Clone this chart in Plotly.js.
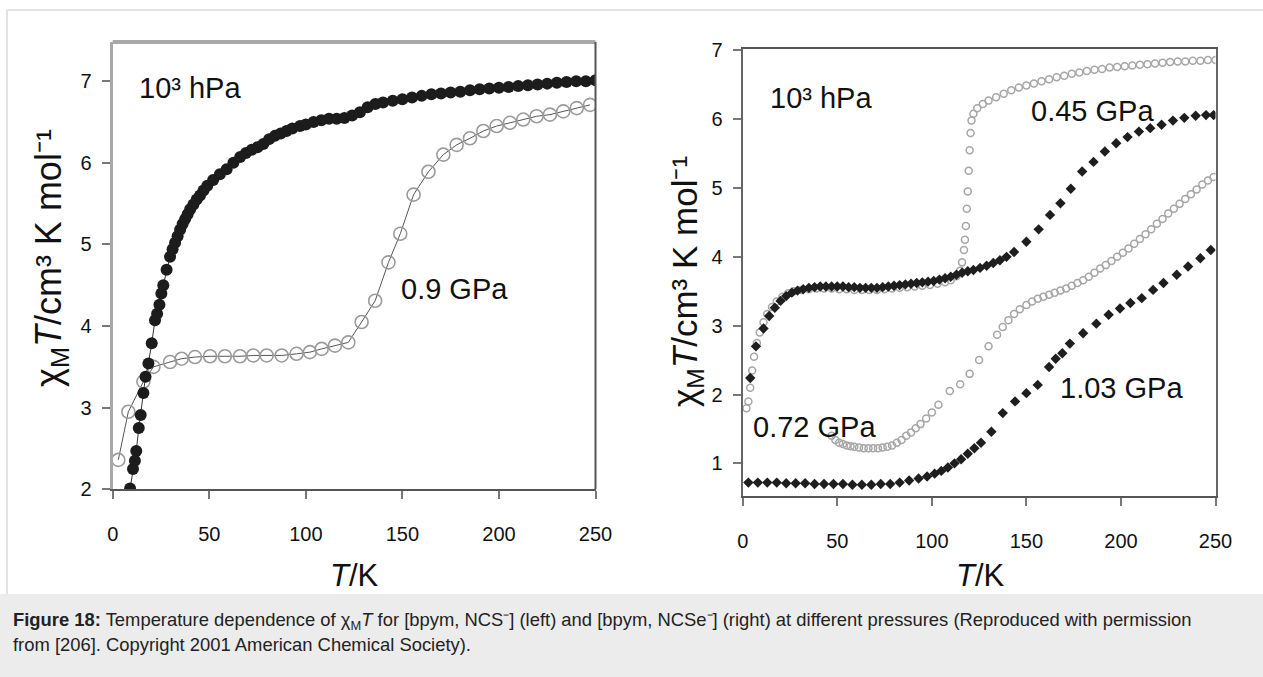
<!DOCTYPE html>
<html>
<head>
<meta charset="utf-8">
<script src="https://cdn.plot.ly/plotly-3.0.1.min.js"></script>
<style>
html,body{margin:0;padding:0;background:#fff;}
#chart{width:1263px;height:677px;}
</style>
</head>
<body>
<div id="chart"></div>
<script>
// ---------- Left panel: [bpym, NCS-] ----------
const leftAmbientT = [9,10.5,11.5,12.2,13.5,14.5,15.9,17,18.5,20.2,21.9,23,24.2,25.2,26.2,27.9,29.7,31,32.3,33.6,34.9,36.2,37.5,38.8,40.1,41.8,43.5,45.2,47,49,52,55.5,59,62.5,66,69,72,75,78,81,84,87,90,93,97,100,104,108,112,116,120,124,128,132,136,140,145,150,155,160,165,170,175,180,185,190,195,200,205,210,215,220,225,230,235,240,245,250];
const leftAmbientV = [2.01,2.25,2.35,2.47,2.75,2.91,3.18,3.38,3.54,3.79,4.07,4.15,4.26,4.40,4.50,4.69,4.85,4.94,5.02,5.10,5.18,5.25,5.31,5.37,5.43,5.49,5.55,5.60,5.66,5.72,5.79,5.86,5.92,6.00,6.07,6.12,6.16,6.19,6.23,6.29,6.33,6.36,6.39,6.42,6.45,6.47,6.50,6.52,6.54,6.54,6.55,6.58,6.62,6.68,6.72,6.74,6.76,6.78,6.80,6.82,6.84,6.85,6.86,6.87,6.89,6.90,6.91,6.92,6.93,6.94,6.95,6.96,6.97,6.98,6.99,7.00,7.00,7.01];

const left09T = [2.9,8.1,15.9,21.1,29.7,35.7,42.6,50.4,58.1,65.9,72.8,79.7,87.5,95.2,102.1,108.2,115.1,122,128.9,135.9,142.8,148.9,155.8,163.5,171.2,178.1,185,191.9,198.8,205.7,212.6,219.5,226.4,233.3,240.3,247.2];
const left09V = [2.36,2.95,3.32,3.50,3.56,3.60,3.62,3.63,3.63,3.63,3.64,3.64,3.64,3.66,3.68,3.72,3.76,3.80,4.05,4.31,4.78,5.13,5.61,5.89,6.10,6.22,6.30,6.39,6.45,6.49,6.53,6.57,6.59,6.63,6.67,6.71];

// ---------- Right panel: [bpym, NCSe-] ----------
const rightAmbientT = [2,3,4,5,6,7.5,9,11,13,15.5,18,21,24,27,31,35,39,43,47,51,55,59,63,67,71,75,79,83,87,91,95,99,103,107,110,113,115,116,117,117.5,118,118.5,119,119.5,120,120.5,121,122,124,127,130,134,138,142,146,150,154,158,162,166,170,174,178,182,186,190,194,198,202,206,210,214,218,222,226,230,234,238,242,246,250];
const rightAmbientV = [1.80,1.90,2.10,2.35,2.55,2.75,2.90,3.05,3.17,3.27,3.35,3.42,3.47,3.50,3.52,3.53,3.54,3.54,3.54,3.53,3.53,3.52,3.52,3.52,3.52,3.53,3.54,3.55,3.56,3.57,3.58,3.59,3.61,3.63,3.66,3.72,3.80,3.92,4.10,4.25,4.45,4.70,4.95,5.25,5.55,5.80,5.98,6.08,6.16,6.22,6.27,6.32,6.37,6.42,6.46,6.49,6.52,6.55,6.58,6.61,6.63,6.66,6.68,6.70,6.72,6.73,6.75,6.76,6.77,6.78,6.79,6.80,6.81,6.82,6.83,6.84,6.84,6.85,6.85,6.86,6.86];

const right045T = [4,7,11,14,17,20,23,26,29,32,35,38,41,44,47,50,53,56,59,62,65,68,71,74,77,80,83,86,89,92,95,98,101,104,107,110,113,116,119,122,125.5,129,132.5,136,139.5,143.5,150,156.5,162.5,168,173.5,179.5,185.5,191.5,197.5,203.5,209.5,215.5,221.5,227.5,233.5,239.5,245,249];
const right045V = [2.24,2.70,2.96,3.14,3.26,3.36,3.43,3.48,3.51,3.53,3.55,3.56,3.57,3.57,3.57,3.57,3.57,3.56,3.56,3.55,3.55,3.55,3.55,3.56,3.57,3.58,3.59,3.60,3.61,3.62,3.63,3.64,3.65,3.67,3.69,3.71,3.74,3.77,3.79,3.81,3.84,3.87,3.91,3.95,4.00,4.07,4.22,4.40,4.61,4.78,4.99,5.24,5.38,5.53,5.65,5.74,5.82,5.87,5.92,5.98,6.02,6.05,6.06,6.06];

const right072T = [47,49,51,53,55,57,59,61.5,64,66.5,69,71.5,74,76.5,79,81.5,84,86.5,89,91.5,94,97,100,103.5,109.5,115,120,125,130,134.5,137.5,140.5,143.5,146.5,150,153,156,159,162,165,168,171,174,177,180,183,186,189,192,195,198,201,204,207,210,213,216,219,222,225,228,231,234,237,240,243,246,249];
const right072V = [1.40,1.34,1.30,1.28,1.26,1.25,1.24,1.23,1.22,1.22,1.22,1.22,1.23,1.24,1.26,1.30,1.34,1.40,1.45,1.51,1.57,1.65,1.74,1.85,2.05,2.15,2.30,2.50,2.70,2.87,2.98,3.08,3.17,3.24,3.30,3.35,3.39,3.42,3.45,3.48,3.51,3.54,3.58,3.62,3.66,3.71,3.77,3.83,3.88,3.94,4.00,4.06,4.12,4.19,4.26,4.33,4.40,4.48,4.55,4.63,4.70,4.77,4.84,4.91,4.98,5.05,5.11,5.16];

const right103T = [3,8,13,18,23,28,33,38,43,48,53,58,63,68,73,78,83,88,93,97.5,101.5,105,108.5,112,115.5,119,122.5,126,131.5,137.5,144,150,156,162,165.5,169,173,180,187,193.5,199.5,205,211,217,222.5,229.5,235.5,242,247.5];
const right103V = [0.72,0.72,0.72,0.72,0.71,0.71,0.71,0.70,0.70,0.70,0.70,0.69,0.69,0.69,0.70,0.70,0.72,0.75,0.78,0.81,0.85,0.89,0.94,1.00,1.06,1.14,1.22,1.30,1.46,1.73,1.90,2.02,2.14,2.40,2.52,2.60,2.74,2.89,3.03,3.16,3.25,3.33,3.40,3.52,3.62,3.74,3.86,3.98,4.10];

const tickValsX = [0,50,100,150,200,250];
const tickValsYLeft = [2,3,4,5,6,7];
const tickValsYRight = [1,2,3,4,5,6,7];

const labels = {
  leftAmbient: '10³ hPa',
  left09: '0.9 GPa',
  rightAmbient: '10³ hPa',
  right045: '0.45 GPa',
  right072: '0.72 GPa',
  right103: '1.03 GPa',
  xTitle: '<i>T</i>/K',
  yTitle: 'χ<sub>M</sub><i>T</i>/cm³ K mol⁻¹',
  caption1: '<b>Figure 18:</b> Temperature dependence of χ<sub>M</sub><i>T</i> for [bpym, NCS⁻] (left) and [bpym, NCSe⁻] (right) at different pressures (Reproduced with permission',
  caption2: 'from [206]. Copyright 2001 American Chemical Society).'
};

const FONT = 'Liberation Sans, Arial, sans-serif';
const W = 1263, H = 677;
const px = v => v / W;
const py = v => (H - v) / H;

const traces = [
  {x: left09T, y: left09V, xaxis: 'x', yaxis: 'y', mode: 'lines+markers', name: '0.9 GPa',
   line: {color: '#555', width: 1},
   marker: {symbol: 'circle-open', size: 13, color: '#9a9a9a', line: {width: 1.6, color: '#9a9a9a'}}},
  {x: leftAmbientT, y: leftAmbientV, xaxis: 'x', yaxis: 'y', mode: 'lines+markers', name: '10^3 hPa',
   line: {color: '#333', width: 1},
   marker: {symbol: 'circle', size: 12, color: '#1c1c1c'}},
  {x: rightAmbientT, y: rightAmbientV, xaxis: 'x2', yaxis: 'y2', mode: 'markers', name: '10^3 hPa (Se)',
   marker: {symbol: 'circle-open', size: 7, color: '#a6a6a6', line: {width: 1.5, color: '#a6a6a6'}}},
  {x: right072T, y: right072V, xaxis: 'x2', yaxis: 'y2', mode: 'markers', name: '0.72 GPa',
   marker: {symbol: 'circle-open', size: 7, color: '#a6a6a6', line: {width: 1.5, color: '#a6a6a6'}}},
  {x: right045T, y: right045V, xaxis: 'x2', yaxis: 'y2', mode: 'markers', name: '0.45 GPa',
   marker: {symbol: 'diamond', size: 8, color: '#1e1e1e'}},
  {x: right103T, y: right103V, xaxis: 'x2', yaxis: 'y2', mode: 'markers', name: '1.03 GPa',
   marker: {symbol: 'diamond', size: 8, color: '#1e1e1e'}}
];

const axisCommon = {
  showgrid: false, zeroline: false, showline: true, ticks: 'outside',
  ticklen: 8, tickwidth: 2, tickcolor: '#777',
  tickfont: {family: FONT, size: 20, color: '#111'}
};

const layout = {
  width: W, height: H,
  margin: {l: 0, r: 0, t: 0, b: 0},
  paper_bgcolor: '#fff', plot_bgcolor: '#fff',
  showlegend: false,
  font: {family: FONT, color: '#111'},
  xaxis: Object.assign({}, axisCommon, {domain: [px(112.7), px(595.5)], range: [0, 250], tickvals: tickValsX,
    anchor: 'y', linecolor: '#555', linewidth: 2, ticklabelstandoff: 18}),
  yaxis: Object.assign({}, axisCommon, {domain: [py(489.3), py(42)], range: [2, 7.48], tickvals: tickValsYLeft,
    anchor: 'x', linecolor: '#a8a8a8', linewidth: 3, ticklabelstandoff: 6}),
  xaxis2: Object.assign({}, axisCommon, {domain: [px(742.7), px(1215.5)], range: [0, 250], tickvals: tickValsX,
    anchor: 'y2', linecolor: '#555', linewidth: 2, mirror: true, ticklabelstandoff: 18}),
  yaxis2: Object.assign({}, axisCommon, {domain: [py(495.7), py(49)], range: [0.53, 7.02], tickvals: tickValsYRight,
    anchor: 'x2', linecolor: '#666', linewidth: 2, mirror: true, ticklabelstandoff: 6}),
  shapes: [
    {type: 'rect', xref: 'paper', yref: 'paper', x0: 0, x1: 1, y0: 0, y1: py(594), fillcolor: '#ececec', line: {width: 0}, layer: 'below'},
    {type: 'line', xref: 'paper', yref: 'paper', x0: px(7), x1: 1, y0: py(10), y1: py(10), line: {color: '#e2e2e2', width: 2}},
    {type: 'line', xref: 'paper', yref: 'paper', x0: px(7), x1: px(7), y0: py(594), y1: py(10), line: {color: '#e2e2e2', width: 2}},
    {type: 'line', xref: 'x domain', yref: 'y domain', x0: 0, x1: 1, y0: 1, y1: 1, line: {color: '#a8a8a8', width: 4}},
    {type: 'line', xref: 'x domain', yref: 'y domain', x0: 1, x1: 1, y0: 0, y1: 1, line: {color: '#555', width: 2}}
  ],
  annotations: [
    {xref: 'x', yref: 'y', x: 12.6, y: 6.92, text: labels.leftAmbient, showarrow: false, xanchor: 'left', yanchor: 'middle', font: {family: FONT, size: 29, color: '#111'}},
    {xref: 'x', yref: 'y', x: 148.5, y: 4.46, text: labels.left09, showarrow: false, xanchor: 'left', yanchor: 'middle', font: {family: FONT, size: 29, color: '#111'}},
    {xref: 'x2', yref: 'y2', x: 13.4, y: 6.31, text: labels.rightAmbient, showarrow: false, xanchor: 'left', yanchor: 'middle', font: {family: FONT, size: 29, color: '#111'}},
    {xref: 'x2', yref: 'y2', x: 151.5, y: 6.12, text: labels.right045, showarrow: false, xanchor: 'left', yanchor: 'middle', font: {family: FONT, size: 29, color: '#111'}},
    {xref: 'x2', yref: 'y2', x: 4.5, y: 1.53, text: labels.right072, showarrow: false, xanchor: 'left', yanchor: 'middle', font: {family: FONT, size: 29, color: '#111'}},
    {xref: 'x2', yref: 'y2', x: 166.5, y: 2.10, text: labels.right103, showarrow: false, xanchor: 'left', yanchor: 'middle', font: {family: FONT, size: 29, color: '#111'}},
    {xref: 'paper', yref: 'paper', x: px(355), y: py(575), text: labels.xTitle, showarrow: false, xanchor: 'center', yanchor: 'middle', font: {family: FONT, size: 31, color: '#111'}},
    {xref: 'paper', yref: 'paper', x: px(980), y: py(575), text: labels.xTitle, showarrow: false, xanchor: 'center', yanchor: 'middle', font: {family: FONT, size: 31, color: '#111'}},
    {xref: 'paper', yref: 'paper', x: px(51), y: py(258), text: labels.yTitle, textangle: -90, showarrow: false, xanchor: 'center', yanchor: 'middle', font: {family: FONT, size: 36, color: '#111'}},
    {xref: 'paper', yref: 'paper', x: px(687), y: py(282), text: labels.yTitle, textangle: -90, showarrow: false, xanchor: 'center', yanchor: 'middle', font: {family: FONT, size: 35, color: '#111'}},
    {xref: 'paper', yref: 'paper', x: px(11), y: py(621), text: labels.caption1, showarrow: false, xanchor: 'left', yanchor: 'middle', align: 'left', font: {family: FONT, size: 18.4, color: '#222'}},
    {xref: 'paper', yref: 'paper', x: px(11), y: py(644), text: labels.caption2, showarrow: false, xanchor: 'left', yanchor: 'middle', align: 'left', font: {family: FONT, size: 18.4, color: '#222'}}
  ]
};

Plotly.newPlot('chart', traces, layout, {displayModeBar: false});
</script>
</body>
</html>
